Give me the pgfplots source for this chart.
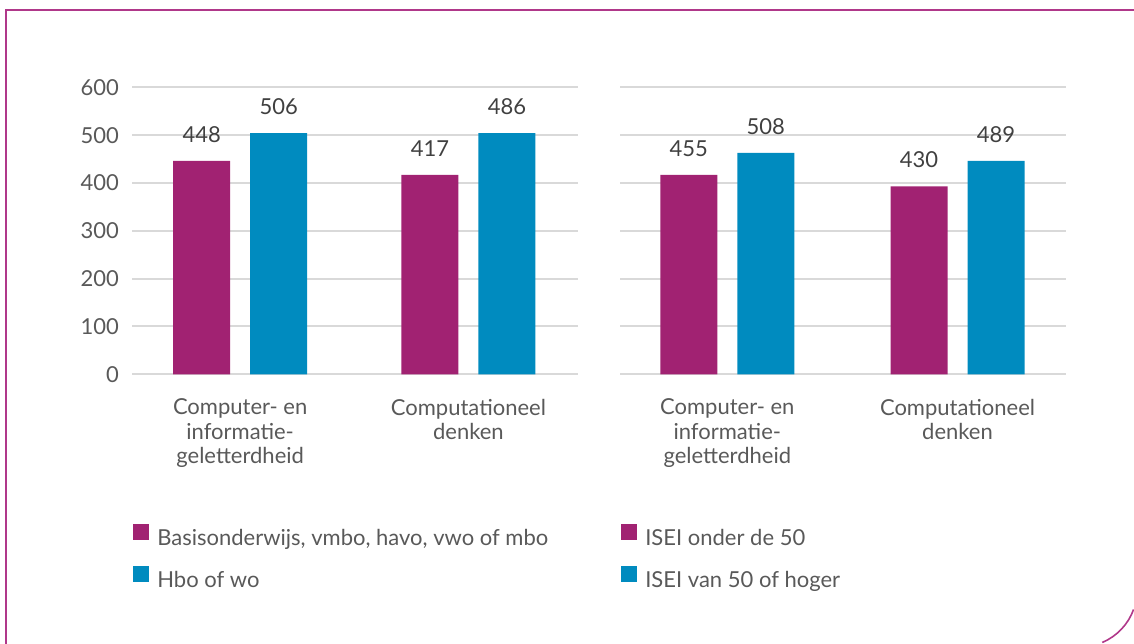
\documentclass[border=0pt]{standalone}
\usepackage{pgfplots}
\pgfplotsset{compat=1.18}
\usepackage{pgfplotstable}
\usepackage{fontspec}
\setmainfont{Lato}

\definecolor{paars}{HTML}{A12272}
\definecolor{blauw}{HTML}{008BBF}
\definecolor{rand}{HTML}{B0388A}
\definecolor{raster}{HTML}{D9D9D9}
\definecolor{tekst}{HTML}{595959}
\definecolor{waarde}{HTML}{404040}

% bar height as drawn, label as printed
\pgfplotstableread{
x h lab
0 446 448
1 417 417
}\oplLaag
\pgfplotstableread{
x h lab
0 504 506
1 504 486
}\oplHoog
\pgfplotstableread{
x h lab
0 417 455
1 393 430
}\iseiLaag
\pgfplotstableread{
x h lab
0 463 508
1 446 489
}\iseiHoog

\newcommand\lettertype{\fontsize{11}{12.25}\selectfont}

\pgfplotsset{
  paneel/.style={
    scale only axis, width=222.75pt, height=143.5pt,
    anchor=south west,
    ymin=0, ymax=600, ytick={0,100,...,600},
    xtick={0,1},
    xticklabels={{Computer- en\\informatie-\\geletterdheid},{Computationeel\\denken}},
    axis x line*=bottom, axis y line*=left,
    axis line style={draw=none}, tick style={draw=none},
    ymajorgrids, grid style={raster, line width=1pt},
    ybar=10pt, bar width=28.5pt,
    /pgf/number format/assume math mode=true,
    tick label style={font=\lettertype, text=tekst},
    xticklabel style={align=center, yshift=-4.5pt},
    yticklabel style={xshift=-3pt},
    nodes near coords, point meta=explicit symbolic,
    every node near coord/.append style={font=\lettertype, text=waarde, inner sep=0pt, yshift=9pt},
    legend style={anchor=north west, draw=none, fill=none, inner sep=0pt,
      font=\lettertype, text=tekst, row sep=8pt,
      cells={anchor=west},
      nodes={inner sep=0pt, text height=8pt, text depth=2.5pt},
      /tikz/every odd column/.append style={column sep=4pt}},
  },
  vak/.style={fill=#1, draw=none,
    legend image code/.code={\fill[#1] (0pt,0pt) rectangle (8pt,8pt);}},
}

\begin{document}
\begin{tikzpicture}
\useasboundingbox (0,0) rectangle (567pt,321.5pt);
% kader
\draw[rand, line width=0.8pt] (3pt,-5pt) -- (3pt,316.5pt) -- (570pt,316.5pt);
\draw[rand, line width=0.8pt] (540pt,26.5pt) ++(-20:28.5pt) arc[start angle=-20, end angle=-67, radius=28.5pt];

\begin{axis}[paneel, at={(66pt,134.35pt)}, xmin=-0.474, xmax=1.478,
  legend style={at={(0.002,-0.52)}}]
  \addplot[vak=paars] table[x=x, y=h, meta=lab] {\oplLaag};
  \addplot[vak=blauw] table[x=x, y=h, meta=lab] {\oplHoog};
  \legend{{Basisonderwijs, vmbo, havo, vwo of mbo}, {Hbo of wo}}
\end{axis}

\begin{axis}[paneel, at={(310pt,134.35pt)}, xmin=-0.466, xmax=1.469,
  yticklabels={}, legend style={at={(0.002,-0.52)}}]
  \addplot[vak=paars] table[x=x, y=h, meta=lab] {\iseiLaag};
  \addplot[vak=blauw] table[x=x, y=h, meta=lab] {\iseiHoog};
  \legend{{ISEI onder de 50}, {ISEI van 50 of hoger}}
\end{axis}
\end{tikzpicture}
\end{document}
